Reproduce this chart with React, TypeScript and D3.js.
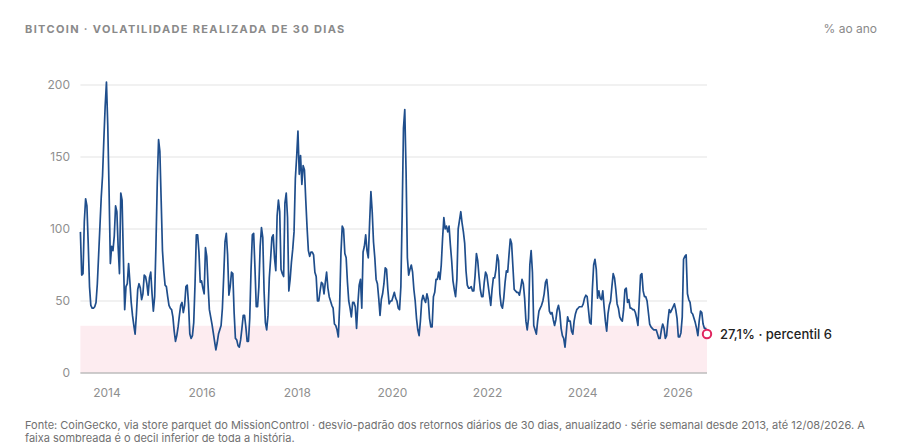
import React, { useEffect, useRef } from 'react';
import * as d3 from 'd3';

// 30-day realized volatility (% a.a.), read every 10 days from 2013-06-11 to 2026-08-12
const SAMPLE_START = '2013-06-11';
const SAMPLE_STEP_DAYS = 10;

const vol2013to2016 = [
  98, 68, 69, 105, 121, 116, 90, 60, 47, 45,
  45, 46, 49, 62, 82, 102, 122, 137, 162, 185,
  202, 172, 127, 76, 88, 85, 95, 116, 112, 87,
  69, 125, 120, 80, 44, 60, 62, 76, 63, 49,
  40, 33, 27, 41, 58, 62, 59, 51, 55, 68,
  67, 62, 54, 66, 70, 55, 43, 53, 89, 132,
  162, 154, 120, 85, 71, 61, 60, 53, 47, 45,
  44, 39, 29, 22, 26, 32, 40, 47, 49, 42,
  47, 60, 61, 48, 27, 24, 26, 35, 62, 96,
  96, 84, 63, 64, 59, 55, 87, 81, 61, 44,
  39, 34, 28, 22, 16, 21, 27, 30, 33, 45,
  67, 91, 97, 82, 54, 60, 70, 69, 42, 24,
  23, 19, 18, 23, 31, 40, 40, 32,
];

const vol2017to2020 = [
  22, 22, 38, 72, 96, 97, 73, 46, 46, 60,
  88, 101, 94, 57, 35, 30, 40, 66, 79, 94,
  96, 80, 71, 109, 120, 112, 72, 69, 67, 118,
  125, 108, 57, 65, 77, 86, 98, 135, 150, 168,
  138, 151, 131, 144, 141, 120, 101, 85, 81, 84,
  84, 82, 70, 67, 50, 50, 57, 63, 62, 55,
  63, 70, 59, 53, 50, 47, 45, 34, 33, 30,
  25, 47, 83, 102, 100, 83, 80, 63, 50, 45,
  39, 49, 49, 46, 31, 48, 61, 65, 45, 84,
  88, 96, 85, 80, 104, 126, 112, 91, 80, 65,
  62, 52, 40, 51, 55, 62, 73, 72, 58, 48,
  50, 50, 53, 56, 52, 50, 45, 44, 60, 110,
  170, 183, 140, 80, 68, 72, 75, 70, 58, 50,
  38, 30, 26, 36, 50,
];

const vol2020to2024 = [
  54, 51, 49, 55, 51, 38, 32, 32, 53, 56,
  65, 65, 70, 65, 75, 93, 108, 100, 102, 98,
  102, 89, 78, 64, 58, 53, 65, 100, 106, 112,
  104, 98, 90, 71, 61, 59, 59, 60, 57, 57,
  68, 83, 78, 67, 58, 53, 53, 63, 70, 68,
  61, 54, 47, 58, 66, 66, 72, 82, 78, 55,
  47, 45, 52, 63, 71, 70, 82, 93, 90, 74,
  58, 57, 56, 56, 54, 59, 65, 62, 52, 36,
  30, 38, 75, 85, 70, 33, 30, 27, 36, 43,
  45, 47, 50, 55, 63, 65, 56, 43, 41, 42,
  37, 33, 37, 44, 47, 42, 31, 26, 24, 18,
  28, 39, 36, 36, 29, 27, 36, 41, 44, 45,
  46, 46, 46, 48, 52, 54, 53, 44, 35, 34,
  58, 75, 79, 72,
];

const vol2024to2026 = [
  52, 57, 52, 51, 57, 46, 36, 29, 41, 47,
  50, 60, 69, 66, 58, 48, 45, 39, 37, 36,
  44, 58, 59, 49, 51, 45, 45, 44, 44, 42,
  38, 33, 50, 68, 69, 57, 53, 53, 50, 42,
  34, 32, 31, 30, 30, 30, 27, 24, 24, 30,
  34, 31, 24, 26, 36, 44, 42, 44, 46, 48,
  44, 38, 25, 25, 28, 39, 79, 81, 82, 55,
  51, 49, 42, 41, 38, 35, 31, 26, 36, 43,
  42, 34, 31, 31, 27.1,
];

const lowerDecile = 32.8;
const lastLabel = '27,1% · percentil 6';
const yTicks = [0, 50, 100, 150, 200];

const title = 'BITCOIN · VOLATILIDADE REALIZADA DE 30 DIAS';
const unitLabel = '% ao ano';
const footerLines = [
  'Fonte: CoinGecko, via store parquet do MissionControl · desvio-padrão dos retornos diários de 30 dias, anualizado · série semanal desde 2013, até 12/08/2026. A',
  'faixa sombreada é o decil inferior de toda a história.',
];

const width = 902;
const height = 447;

export default function App() {
  const svgRef = useRef<SVGSVGElement>(null);

  useEffect(() => {
    if (!svgRef.current) return;
    const svg = d3.select(svgRef.current);
    svg.selectAll('*').remove();

    const values = [...vol2013to2016, ...vol2017to2020, ...vol2020to2024, ...vol2024to2026];
    const start = d3.timeParse('%Y-%m-%d')(SAMPLE_START) as Date;
    const data = values.map((v, i) => ({
      date: d3.timeDay.offset(start, i * SAMPLE_STEP_DAYS),
      value: v,
    }));

    const left = 80.4;
    const right = 707;
    const top = 85;
    const bottom = 373;

    const x = d3
      .scaleTime()
      .domain(d3.extent(data, (d) => d.date) as [Date, Date])
      .range([left, right]);

    const y = d3.scaleLinear().domain([0, 200]).range([bottom, top]);

    const font = 'Inter, "Noto Sans", sans-serif';

    // title + unit
    svg
      .append('text')
      .attr('x', 25)
      .attr('y', 32.5)
      .attr('font-family', font)
      .attr('font-size', 11)
      .attr('font-weight', 700)
      .attr('letter-spacing', 1.35)
      .attr('fill', '#8a8a8a')
      .text(title);

    svg
      .append('text')
      .attr('x', 877)
      .attr('y', 32.5)
      .attr('text-anchor', 'end')
      .attr('font-family', font)
      .attr('font-size', 12)
      .attr('fill', '#8a8a8a')
      .text(unitLabel);

    // lower-decile band
    svg
      .append('rect')
      .attr('x', left)
      .attr('y', y(lowerDecile))
      .attr('width', right - left)
      .attr('height', y(0) - y(lowerDecile))
      .attr('fill', '#fdecf0');

    // grid
    const grid = svg.append('g');
    grid
      .selectAll('line')
      .data(yTicks)
      .join('line')
      .attr('x1', left)
      .attr('x2', right)
      .attr('y1', (d) => y(d))
      .attr('y2', (d) => y(d))
      .attr('stroke', (d) => (d === 0 ? '#bdbdbd' : '#e3e3e3'))
      .attr('stroke-width', (d) => (d === 0 ? 1.5 : 1));

    grid
      .selectAll('text')
      .data(yTicks)
      .join('text')
      .attr('x', 70)
      .attr('y', (d) => y(d) + 4.3)
      .attr('text-anchor', 'end')
      .attr('font-family', font)
      .attr('font-size', 12)
      .attr('fill', '#8f8f8f')
      .text((d) => d);

    // x ticks
    const xTicks = x.ticks(d3.timeYear.every(2) as d3.TimeInterval);
    svg
      .append('g')
      .selectAll('text')
      .data(xTicks)
      .join('text')
      .attr('x', (d) => x(d))
      .attr('y', 396.5)
      .attr('text-anchor', 'middle')
      .attr('font-family', font)
      .attr('font-size', 12)
      .attr('fill', '#8f8f8f')
      .text((d) => d3.timeFormat('%Y')(d));

    // series
    const line = d3
      .line<{ date: Date; value: number }>()
      .x((d) => x(d.date))
      .y((d) => y(d.value));

    svg
      .append('path')
      .datum(data)
      .attr('fill', 'none')
      .attr('stroke', '#1f4e8c')
      .attr('stroke-width', 1.7)
      .attr('stroke-linejoin', 'round')
      .attr('d', line);

    // last point marker
    const last = data[data.length - 1];
    svg
      .append('circle')
      .attr('cx', x(last.date))
      .attr('cy', y(last.value))
      .attr('r', 4.2)
      .attr('fill', '#fff')
      .attr('stroke', '#e0245e')
      .attr('stroke-width', 2);

    svg
      .append('text')
      .attr('x', x(last.date) + 13)
      .attr('y', y(last.value) + 4.6)
      .attr('font-family', font)
      .attr('font-size', 13)
      .attr('font-weight', 500)
      .attr('fill', '#222')
      .text(lastLabel);

    // footer
    svg
      .append('g')
      .selectAll('text')
      .data(footerLines)
      .join('text')
      .attr('x', 25)
      .attr('y', (_, i) => 429 + i * 13)
      .attr('font-family', font)
      .attr('font-size', 11)
      .attr('fill', '#707070')
      .text((d) => d);
  }, []);

  return (
    <div style={{ position: 'absolute', left: 0, top: 0, background: '#fff' }}>
      <svg ref={svgRef} width={width} height={height} />
    </div>
  );
}
